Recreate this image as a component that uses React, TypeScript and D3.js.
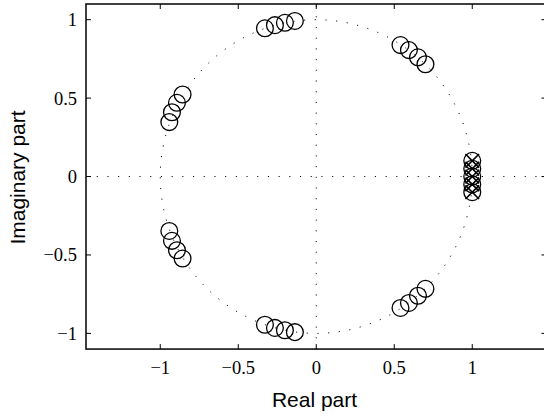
import React, { useEffect, useRef } from 'react';
import * as d3 from 'd3';

// zeros (o), real and imaginary parts
const zeroRe = [
  -0.329, -0.265, -0.201, -0.137,
  0.54, 0.594, 0.652, 0.7,
  -0.857, -0.893, -0.925, -0.942,
  -0.329, -0.265, -0.201, -0.137,
  0.54, 0.594, 0.652, 0.7,
  -0.857, -0.893, -0.925, -0.942,
  1, 1, 1, 1, 1,
];
const zeroIm = [
  0.945, 0.965, 0.98, 0.992,
  0.838, 0.806, 0.76, 0.716,
  0.523, 0.47, 0.41, 0.347,
  -0.945, -0.965, -0.98, -0.992,
  -0.838, -0.806, -0.76, -0.716,
  -0.523, -0.47, -0.41, -0.347,
  0.1, 0.05, 0, -0.05, -0.1,
];
// poles (x)
const poleRe = [1, 1, 1, 1, 1];
const poleIm = [0.1, 0.05, 0, -0.05, -0.1];

const xTicks = [-1, -0.5, 0, 0.5, 1];
const yTicks = [-1, -0.5, 0, 0.5, 1];
const xLimits = [-1.476, 1.476];
const yLimits = [-1.1, 1.1];

const fmt = (v: number) => (v < 0 ? '\u2212' + Math.abs(v) : String(v));

export default function App() {
  const ref = useRef<SVGSVGElement>(null);

  useEffect(() => {
    const svg = d3.select(ref.current);
    svg.selectAll('*').remove();

    const left = 86, top = 4;
    const x = d3.scaleLinear().domain(xLimits).range([left, left + 2 * 1.476 * 156]);
    const y = d3.scaleLinear().domain(yLimits).range([top + 2.2 * 156.85, top]);
    const [x0, x1] = x.range();
    const [y0, y1] = y.range();

    // unit circle and axes, dotted
    const unit = d3.range(0, 361, 1).map(a => [Math.cos((a * Math.PI) / 180), Math.sin((a * Math.PI) / 180)]);
    svg.append('path')
      .attr('d', d3.line().x(d => x(d[0])).y(d => y(d[1]))(unit as [number, number][]))
      .attr('fill', 'none')
      .attr('stroke', '#000')
      .attr('stroke-width', 1)
      .attr('stroke-dasharray', '1.1 9.6');
    svg.append('line')
      .attr('x1', x0).attr('x2', x1).attr('y1', y(0)).attr('y2', y(0))
      .attr('stroke', '#000').attr('stroke-dasharray', '1.1 9.6');
    svg.append('line')
      .attr('x1', x(0)).attr('x2', x(0)).attr('y1', y0).attr('y2', y1)
      .attr('stroke', '#000').attr('stroke-dasharray', '1.1 9.6');

    // zeros
    svg.append('g')
      .selectAll('circle')
      .data(zeroRe.map((r, i) => [r, zeroIm[i]]))
      .enter()
      .append('circle')
      .attr('cx', d => x(d[0]))
      .attr('cy', d => y(d[1]))
      .attr('r', 8.4)
      .attr('fill', 'none')
      .attr('stroke', '#000')
      .attr('stroke-width', 1.3);

    // poles
    const s = 6.8;
    svg.append('g')
      .selectAll('path')
      .data(poleRe.map((r, i) => [r, poleIm[i]]))
      .enter()
      .append('path')
      .attr('d', d => {
        const cx = x(d[0]), cy = y(d[1]);
        return `M${cx - s},${cy - s}L${cx + s},${cy + s}M${cx - s},${cy + s}L${cx + s},${cy - s}`;
      })
      .attr('stroke', '#000')
      .attr('stroke-width', 1.6);

    // box
    svg.append('rect')
      .attr('x', x0).attr('y', y1)
      .attr('width', x1 - x0).attr('height', y0 - y1)
      .attr('fill', 'none').attr('stroke', '#000').attr('stroke-width', 1.5);

    const tl = 5;
    const ticks = svg.append('g').attr('stroke', '#000').attr('stroke-width', 1);
    xTicks.forEach(t => {
      ticks.append('line').attr('x1', x(t)).attr('x2', x(t)).attr('y1', y0).attr('y2', y0 - tl);
      ticks.append('line').attr('x1', x(t)).attr('x2', x(t)).attr('y1', y1).attr('y2', y1 + tl);
    });
    yTicks.forEach(t => {
      ticks.append('line').attr('y1', y(t)).attr('y2', y(t)).attr('x1', x0).attr('x2', x0 + tl);
      ticks.append('line').attr('y1', y(t)).attr('y2', y(t)).attr('x1', x1).attr('x2', x1 - tl);
    });

    const serif = '"Liberation Serif", "Times New Roman", serif';
    svg.append('g')
      .selectAll('text')
      .data(xTicks)
      .enter()
      .append('text')
      .attr('x', d => x(d))
      .attr('y', 373.5)
      .attr('text-anchor', 'middle')
      .attr('font-family', serif)
      .attr('font-size', 18.5)
      .text(d => fmt(d));
    svg.append('g')
      .selectAll('text')
      .data(yTicks)
      .enter()
      .append('text')
      .attr('x', 77)
      .attr('y', d => y(d) + 6.5)
      .attr('text-anchor', 'end')
      .attr('font-family', serif)
      .attr('font-size', 18.5)
      .text(d => fmt(d));

    const sans = '"Liberation Sans", Arial, sans-serif';
    svg.append('text')
      .attr('x', 314.5).attr('y', 406.5)
      .attr('text-anchor', 'middle')
      .attr('font-family', sans).attr('font-size', 21)
      .text('Real part');
    svg.append('text')
      .attr('transform', `translate(24.5, 177.5) rotate(-90)`)
      .attr('text-anchor', 'middle')
      .attr('font-family', sans).attr('font-size', 21)
      .text('Imaginary part');
  }, []);

  return (
    <svg ref={ref} width={544} height={414}
      style={{ position: 'absolute', left: 0, top: 0, background: '#fff' }} />
  );
}
